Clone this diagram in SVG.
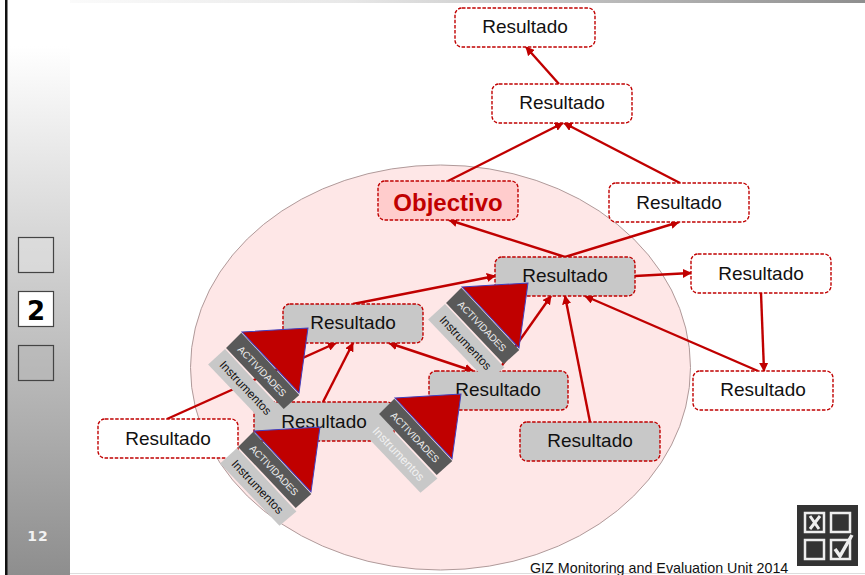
<svg xmlns="http://www.w3.org/2000/svg" xmlns:xlink="http://www.w3.org/1999/xlink" width="865" height="575" viewBox="0 0 865 575">
<style>
text{font-family:"Liberation Sans",Arial,sans-serif}
.box{stroke:#c00000;stroke-width:1.4;stroke-dasharray:3.5 1.6}
.w{fill:#fff}.g{fill:#c8c8c8}
.lbl{font-size:19px;fill:#111;text-anchor:middle}
.c{fill:none;stroke:#c00000;stroke-width:2.4}
.act{font-size:9.8px;fill:#eee;text-anchor:middle}
.ins{font-size:12px;fill:#111;text-anchor:middle}
.side{fill:none;stroke:#444;stroke-width:1.2}
</style>
<defs>
<linearGradient id="rail" x1="0" y1="0" x2="0" y2="1"><stop offset="0" stop-color="#fff"/><stop offset="0.08" stop-color="#fff"/><stop offset="1" stop-color="#8e8e8e"/></linearGradient>
<linearGradient id="top" x1="0" y1="0" x2="1" y2="0"><stop offset="0" stop-color="#fff"/><stop offset="0.4" stop-color="#e8e8e8"/><stop offset="1" stop-color="#8e8e8e"/></linearGradient>
<marker id="a" viewBox="0 0 10 10" refX="9" refY="5" markerWidth="3.8" markerHeight="3.8" orient="auto-start-reverse"><path d="M0 0L10 5L0 10z" fill="#c00000"/></marker>
<g id="wedge">
<polygon points="0,24 -1,47 85,49 87,27" fill="#c8c8c8"/>
<polygon points="0,1 0,22.5 84,25 85,4" fill="#595959"/>
<polygon points="0,0 43.8,-49.5 83.4,2.8" fill="#c00000" stroke="#4040c0" stroke-width="1"/>
<text class="act" x="42" y="17" transform="rotate(1.5 42 13)">ACTIVIDADES</text>
</g>
</defs>
<rect width="865" height="575" fill="#fff"/>
<rect x="0" y="0" width="865" height="3" fill="url(#top)"/>
<rect x="7" y="0" width="63" height="575" fill="url(#rail)"/>
<rect x="5" y="0" width="2.5" height="575" fill="#111"/>
<line x1="70" y1="573.5" x2="865" y2="573.5" stroke="#ddd" stroke-width="1"/>
<rect x="18.500" y="237.500" width="35" height="35" fill="#dcdcdc" fill-opacity=".5" class="side" style="fill:#e0e0e0;fill-opacity:.6"/>
<g id="nav2"><rect x="18.500" y="291.500" width="35" height="35" class="side" style="fill:#fff"/>
<text x="36" y="320" text-anchor="middle" style="font-family:'DejaVu Sans',sans-serif;font-size:26px;font-weight:bold;fill:#000">2</text></g>
<rect x="18.500" y="345.500" width="35" height="35" class="side" style="fill:#b8b8b8;fill-opacity:.6"/>
<text x="38" y="541" text-anchor="middle" style="font-family:'DejaVu Sans',sans-serif;font-size:14px;font-weight:bold;fill:#f2f2f2;letter-spacing:1px">12</text>

<ellipse id="circle" cx="440.500" cy="367.500" rx="250" ry="202.500" fill="#fee7e7" stroke="#b09a9a" stroke-width="1"/>

<g id="connectors">
<line class="c" x1="559" y1="84" x2="526" y2="47" marker-end="url(#a)"/>
<line class="c" x1="448" y1="181" x2="563" y2="123" marker-end="url(#a)"/>
<line class="c" x1="680" y1="183" x2="564" y2="123" marker-end="url(#a)"/>
<line class="c" x1="565" y1="257" x2="449" y2="220" marker-end="url(#a)"/>
<line class="c" x1="565" y1="257" x2="679" y2="222" marker-end="url(#a)"/>
<line class="c" x1="635" y1="276" x2="691" y2="273" marker-end="url(#a)"/>
<line class="c" x1="761" y1="293" x2="764" y2="371" marker-end="url(#a)"/>
<line class="c" x1="758" y1="371" x2="585" y2="296" marker-end="url(#a)"/>
<line class="c" x1="590" y1="422" x2="565" y2="296" marker-end="url(#a)"/>
<line class="c" x1="498" y1="371" x2="551" y2="296" marker-end="url(#a)"/>
<line class="c" x1="167" y1="419" x2="336" y2="343" marker-end="url(#a)"/>
<line class="c" x1="323" y1="402" x2="353" y2="343" marker-end="url(#a)"/>
<line class="c" x1="389" y1="343" x2="473" y2="371" marker-start="url(#a)" marker-end="url(#a)"/>
<line class="c" x1="353" y1="304" x2="495" y2="276" marker-end="url(#a)"/>
</g>

<g id="n1"><rect class="box w" x="455" y="8" width="140" height="39" rx="7"/><text class="lbl" x="525" y="33">Resultado</text></g>
<g id="n2"><rect class="box w" x="492" y="84" width="140" height="39" rx="7"/><text class="lbl" x="562" y="109">Resultado</text></g>
<g id="objectivo"><rect class="box" fill="#ffcccc" x="378" y="181" width="140" height="39" rx="7"/><text x="448" y="211" text-anchor="middle" style="font-size:24px;font-weight:bold;fill:#c00000">Objectivo</text></g>
<g id="n3"><rect class="box w" x="609" y="183" width="140" height="39" rx="7"/><text class="lbl" x="679" y="209">Resultado</text></g>
<g id="n4"><rect class="box g" x="495" y="257" width="140" height="39" rx="7"/><text class="lbl" x="565" y="282">Resultado</text></g>
<g id="n5"><rect class="box w" x="691" y="254" width="140" height="39" rx="7"/><text class="lbl" x="761" y="280">Resultado</text></g>
<g id="n6"><rect class="box w" x="693" y="371" width="140" height="39" rx="7"/><text class="lbl" x="763" y="396">Resultado</text></g>
<g id="n7"><rect class="box g" x="283" y="304" width="140" height="39" rx="7"/><text class="lbl" x="353" y="329">Resultado</text></g>
<g id="n8"><rect class="box g" x="429" y="371" width="139" height="39" rx="7"/><text class="lbl" x="498" y="396">Resultado</text></g>
<g id="n9"><rect class="box g" x="254" y="402" width="140" height="39" rx="7"/><text class="lbl" x="324" y="428">Resultado</text></g>
<g id="n10"><rect class="box g" x="520" y="422" width="140" height="39" rx="7"/><text class="lbl" x="590" y="447">Resultado</text></g>
<g id="n11"><rect class="box w" x="98" y="419" width="140" height="39" rx="7"/><text class="lbl" x="168" y="445">Resultado</text></g>

<g id="w1" transform="translate(242 332) rotate(45)"><use xlink:href="#wedge" href="#wedge"/><text class="ins" x="42" y="41" transform="rotate(1.5 42 37)">Instrumentos</text></g>
<g id="w2" transform="translate(254 431) rotate(45)"><use xlink:href="#wedge" href="#wedge"/><text class="ins" x="42" y="41" transform="rotate(1.5 42 37)">Instrumentos</text></g>
<g id="w3" transform="translate(395 398) rotate(45)"><use xlink:href="#wedge" href="#wedge"/><text class="ins" x="42" y="41" transform="rotate(1.5 42 37)" style="fill:#f2f2f2">Instrumentos</text></g>
<g id="w4" transform="translate(462 287) rotate(45)"><use xlink:href="#wedge" href="#wedge"/><text class="ins" x="42" y="41" transform="rotate(1.5 42 37)">Instrumentos</text></g>

<text x="530" y="573" style="font-size:14.3px;fill:#111">GIZ Monitoring and Evaluation Unit 2014</text>

<g id="icon">
<rect x="797" y="505" width="61" height="61" fill="#333"/>
<g fill="none" stroke="#eee" stroke-width="2.500">
<rect x="805" y="513" width="19" height="19"/><rect x="831" y="513" width="19" height="19"/>
<rect x="805" y="540" width="19" height="19"/><rect x="831" y="540" width="19" height="19"/>
</g>
<path d="M810 516L819 529M820 516L810 529" stroke="#eee" stroke-width="3" fill="none"/>
<path d="M835 549L840 556L852 535" stroke="#eee" stroke-width="3.500" fill="none"/>
</g>
</svg>
